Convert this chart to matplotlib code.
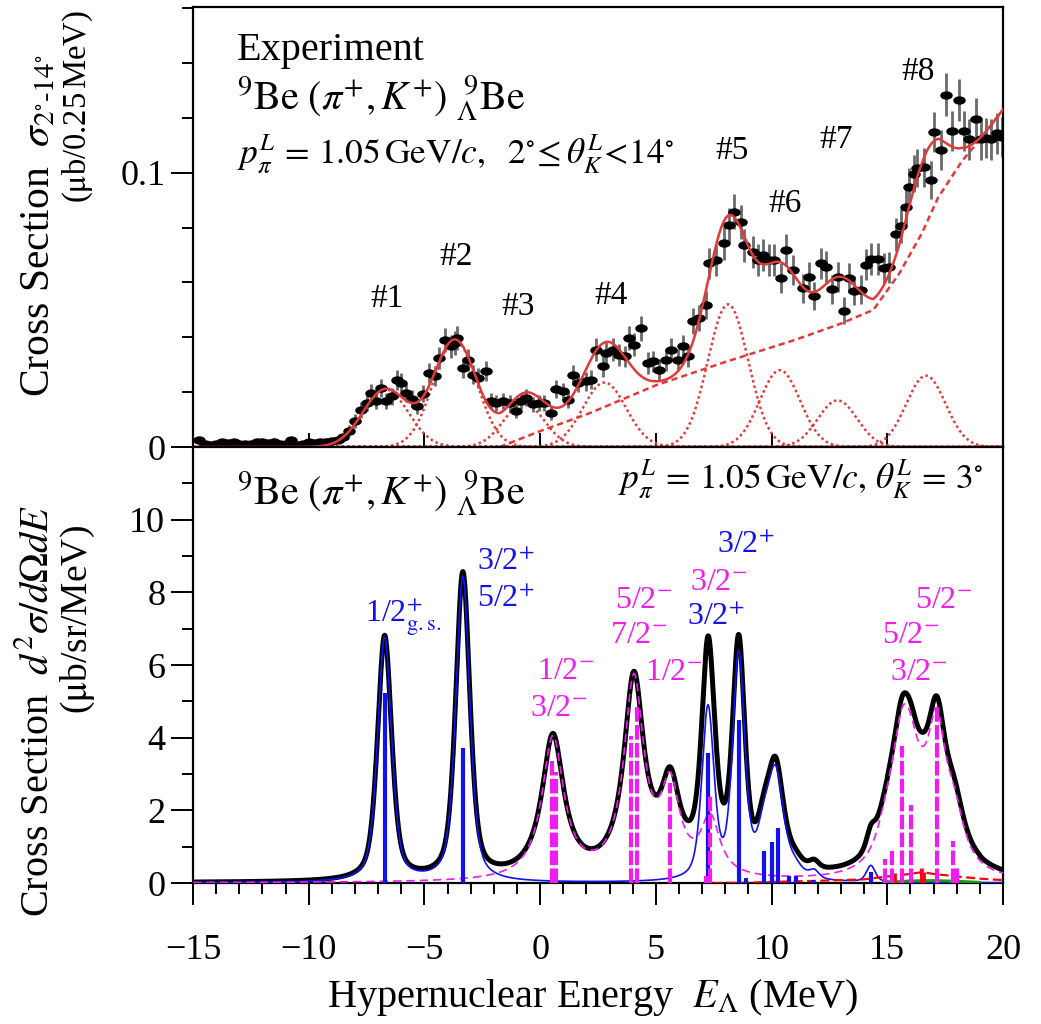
import numpy as np
import matplotlib
matplotlib.use("Agg")
import matplotlib.pyplot as plt
from matplotlib.path import Path
from matplotlib.ticker import MultipleLocator

plt.rcParams['font.family'] = ['Liberation Serif', 'DejaVu Serif']
plt.rcParams['mathtext.fontset'] = 'stix'

# ---------------- top panel: experimental data ----------------
EXP_E = [-14.75, -14.5, -14.25, -14.0, -13.75, -13.5, -13.25, -13.0, -12.75, -12.5,
         -12.25, -12.0, -11.75, -11.5, -11.25, -11.0, -10.75, -10.5, -10.25, -10.0,
         -9.75, -9.5, -9.25, -9.0, -8.75, -8.5, -8.25, -8.0, -7.75, -7.5,
         -7.3, -7.1, -6.87, -6.65, -6.4, -6.2, -6.0, -5.8, -5.55, -5.3,
         -5.05, -4.8, -4.55, -4.35, -4.1, -3.87, -3.7, -3.6, -3.35, -3.13,
         -2.9, -2.7, -2.35, -2.12, -1.9, -1.6, -1.3, -1.05, -0.82, -0.6,
         -0.32, -0.05, 0.15, 0.47, 0.69, 0.98, 1.19, 1.4, 1.65, 1.99,
         2.2, 2.4, 2.7, 2.85, 3.13, 3.42, 3.65, 3.86, 4.07, 4.36,
         4.65, 4.86, 5.15, 5.44, 5.66, 5.94, 6.16, 6.37, 6.59, 6.88,
         7.17, 7.31, 7.6, 7.96, 8.17, 8.39, 8.68, 8.82, 9.18, 9.4,
         9.61, 9.9, 10.12, 10.41, 10.62, 10.91, 11.34, 11.63, 11.84, 12.13,
         12.35, 12.63, 12.85, 13.14, 13.36, 13.57, 13.86, 14.08, 14.29, 14.58,
         14.87, 15.08, 15.37, 15.59, 15.8, 15.95, 16.16, 16.3, 16.59, 16.88,
         17.02, 17.31, 17.53, 17.81, 18.1, 18.32, 18.53, 18.83, 19.04, 19.26,
         19.47, 19.76, 19.95]
EXP_S = [0.0025, 0.0012, 0.0008, 0.0010, 0.0017, 0.0015, 0.0018, 0.0012, 0.0010, 0.0012,
         0.0017, 0.0020, 0.0016, 0.0019, 0.0010, 0.0012, 0.0025, 0.0008, 0.0010, 0.0017,
         0.0016, 0.0018, 0.0020, 0.0022, 0.0026, 0.0035, 0.0060, 0.0095, 0.0135, 0.0160,
         0.0197, 0.0167, 0.0215, 0.0167, 0.0185, 0.0245, 0.0235, 0.0197, 0.0175, 0.0148,
         0.0195, 0.0270, 0.0258, 0.0325, 0.0390, 0.0367, 0.0379, 0.0397, 0.0288, 0.0318,
         0.0264, 0.0252, 0.0276, 0.0167, 0.0160, 0.0167, 0.0160, 0.0130, 0.0167, 0.0179,
         0.0155, 0.0160, 0.0160, 0.0124, 0.0210, 0.0203, 0.0173, 0.0262, 0.0233, 0.0240,
         0.0245, 0.0355, 0.0294, 0.0343, 0.0355, 0.0336, 0.0330, 0.0397, 0.0373, 0.0433,
         0.0306, 0.0312, 0.0282, 0.0318, 0.0355, 0.0318, 0.0367, 0.0330, 0.0458, 0.0470,
         0.0518, 0.0670, 0.0682, 0.0742, 0.0809, 0.0857, 0.0821, 0.0736, 0.0712, 0.0682,
         0.0700, 0.0682, 0.0682, 0.0615, 0.0718, 0.0645, 0.0579, 0.0619, 0.0551, 0.0670,
         0.0657, 0.0575, 0.0619, 0.0497, 0.0615, 0.0570, 0.0573, 0.0664, 0.0684, 0.0684,
         0.0652, 0.0655, 0.0775, 0.0807, 0.0876, 0.0948, 0.0997, 0.1017, 0.1019, 0.0973,
         0.1147, 0.1082, 0.1284, 0.1152, 0.1266, 0.1152, 0.1121, 0.1197, 0.1121, 0.1128,
         0.1121, 0.1143, 0.1130]
EXP_ERR = [0.0012, 0.0010, 0.0009, 0.0009, 0.0011, 0.0010, 0.0011, 0.0010, 0.0009, 0.0010,
           0.0011, 0.0012, 0.0011, 0.0012, 0.0009, 0.0010, 0.0012, 0.0009, 0.0009, 0.0011,
           0.0011, 0.0011, 0.0012, 0.0012, 0.0013, 0.0015, 0.0020, 0.0024, 0.0028, 0.0030,
           0.0032, 0.0030, 0.0033, 0.0030, 0.0031, 0.0036, 0.0035, 0.0032, 0.0031, 0.0028,
           0.0032, 0.0037, 0.0036, 0.0040, 0.0044, 0.0042, 0.0043, 0.0044, 0.0038, 0.0040,
           0.0036, 0.0036, 0.0037, 0.0030, 0.0029, 0.0030, 0.0029, 0.0026, 0.0030, 0.0031,
           0.0029, 0.0029, 0.0029, 0.0026, 0.0033, 0.0032, 0.0030, 0.0036, 0.0034, 0.0035,
           0.0035, 0.0042, 0.0038, 0.0041, 0.0042, 0.0040, 0.0040, 0.0044, 0.0043, 0.0046,
           0.0039, 0.0039, 0.0037, 0.0040, 0.0042, 0.0040, 0.0043, 0.0040, 0.0047, 0.0048,
           0.0050, 0.0057, 0.0057, 0.0060, 0.0062, 0.0064, 0.0063, 0.0060, 0.0058, 0.0057,
           0.0058, 0.0057, 0.0057, 0.0054, 0.0058, 0.0055, 0.0053, 0.0055, 0.0052, 0.0057,
           0.0056, 0.0053, 0.0055, 0.0049, 0.0055, 0.0053, 0.0053, 0.0057, 0.0058, 0.0058,
           0.0056, 0.0056, 0.0061, 0.0062, 0.0065, 0.0068, 0.0069, 0.0070, 0.0070, 0.0068,
           0.0073, 0.0072, 0.0078, 0.0074, 0.0077, 0.0074, 0.0073, 0.0075, 0.0073, 0.0073,
           0.0073, 0.0074, 0.0073]

# fitted gaussian peaks #1..#8 (centre, height, FWHM) and background curve
FIT_E = [-6.68, -3.68, -0.70, 2.78, 8.12, 10.36, 12.85, 16.67]
FIT_H = [0.021, 0.039, 0.016, 0.0235, 0.052, 0.028, 0.017, 0.026]
FIT_W = [2.3, 2.2, 2.05, 2.2, 2.05, 2.05, 2.0, 2.0]
PEAK_LABELS = ['#1', '#2', '#3', '#4', '#5', '#6', '#7', '#8']
BG_E = [-15.0, -1.75, 0.0, 2.1, 5.0, 8.0, 11.0, 13.0, 14.4, 15.5, 16.5, 17.2, 18.25, 19.1, 20.0]
BG_S = [0.0, 0.0, 0.0058, 0.0122, 0.0225, 0.0310, 0.039, 0.045, 0.050, 0.063, 0.078, 0.091, 0.1045, 0.113, 0.123]

# ---------------- bottom panel: calculation ----------------
# positive parity (blue) line-shape components: centre, height, FWHM
POS_E = [-6.72, -3.34, 7.25, 8.58, 9.65, 10.18, 11.0, 11.84, 14.29]
POS_H = [6.72, 8.4, 4.7, 6.15, 1.0, 2.8, 0.3, 0.22, 0.45]
POS_W = [0.72, 0.72, 0.62, 0.62, 0.7, 0.8, 0.8, 0.5, 0.45]
# negative parity (magenta) line-shape components
NEG_E = [0.55, 4.05, 5.62, 7.35, 14.9, 15.22, 15.63, 16.02, 16.52, 17.14, 17.86, 18.03]
NEG_H = [3.9, 5.4, 2.32, 1.55, 0.55, 0.55, 2.65, 1.75, 0.55, 3.6, 0.89, 0.34]
NEG_W = [1.15, 1.05, 1.0, 1.0, 1.0, 1.0, 1.0, 1.0, 1.0, 1.0, 1.0, 1.0]
# small extra contributions
RED_E = [7.5, 9.0, 10.0, 12.0, 14.0, 15.0, 16.0, 16.5, 17.0, 18.0, 19.0, 20.0]
RED_Y = [0.0, 0.01, 0.03, 0.06, 0.10, 0.18, 0.25, 0.30, 0.25, 0.18, 0.12, 0.08]
GREEN_E = [15.0, 16.0, 17.0, 18.0, 19.0]
GREEN_Y = [0.02, 0.06, 0.07, 0.05, 0.02]

# strength bars
BLUE_BAR_E = [-6.72, -3.34, 7.27, 8.58, 8.90, 9.66, 10.04, 10.28, 10.76, 11.05, 11.77, 14.29]
BLUE_BAR_H = [5.24, 3.72, 3.59, 4.5, 0.14, 0.87, 1.13, 1.52, 0.18, 0.18, 0.09, 0.29]
MAG_BAR_E = [0.50, 0.69, 3.93, 4.17, 5.61, 7.17, 7.34, 14.90, 15.22, 15.63, 16.02, 16.52, 17.14, 17.86, 18.03]
MAG_BAR_H = [3.35, 3.05, 4.05, 4.87, 2.76, 0.2, 2.39, 0.66, 0.87, 3.77, 2.16, 0.46, 4.87, 1.15, 0.44]
RED_BAR_E = [15.35, 16.45, 16.6]
RED_BAR_H = [0.28, 0.38, 0.30]

BLUE = '#1212ee'
MAG = '#f01cf0'
RED = '#e23a3a'

W, H = 1041, 1024
fig = plt.figure(figsize=(W / 100, H / 100), dpi=100)


def fx(px):
    return px / W


def fy(py):
    return 1 - py / H


L, R = 193, 1003
ax1 = fig.add_axes([fx(L), fy(447), fx(R - L), (447 - 7) / H])
ax2 = fig.add_axes([fx(L), fy(883), fx(R - L), (883 - 447) / H])

x = np.linspace(-15, 20, 3501)


def gauss(x, c, h, w):
    s = w / 2.3548
    return h * np.exp(-0.5 * ((x - c) / s) ** 2)


def pvoigt(x, c, h, w, eta):
    lor = 1.0 / (1.0 + ((x - c) / (w / 2)) ** 2)
    gs = np.exp(-4 * np.log(2) * ((x - c) / w) ** 2)
    return h * (eta * lor + (1 - eta) * gs)


# ---- top panel ----
ellipse = Path.unit_circle().transformed(matplotlib.transforms.Affine2D().scale(1.6, 1.0))
ax1.errorbar(EXP_E, EXP_S, yerr=EXP_ERR, fmt='none', ecolor='#6a6a6a', elinewidth=2.0, zorder=2)
ax1.plot(EXP_E, EXP_S, ls='none', marker=ellipse, ms=8, color='black', zorder=3)

bg = np.interp(x, BG_E, BG_S)
total = bg.copy()
for c, h, w in zip(FIT_E, FIT_H, FIT_W):
    g = gauss(x, c, h, w)
    total += g
    ax1.plot(x, g, color=RED, lw=1.8, ls=(0, (1.0, 1.2)), zorder=2.5)
ax1.plot(BG_E[1:], BG_S[1:], color=RED, lw=1.8, ls=(0, (2.5, 1.6)), zorder=2.5)
ax1.plot(x, total, color=RED, lw=1.8, zorder=4)

label_pos = [(387, 299), (456, 257), (518, 307), (611, 296), (732, 151), (785, 204), (836, 140), (918, 72)]
for lab, (px, py) in zip(PEAK_LABELS, label_pos):
    fig.text(fx(px), fy(py), lab, fontsize=24, ha='center', va='center')

ax1.set_xlim(-15, 20)
ax1.set_ylim(0, 0.1604)
ax1.set_yticks([0, 0.1])
ax1.set_yticklabels(['0', '0.1'])
ax1.yaxis.set_minor_locator(MultipleLocator(0.02))
ax1.set_xticks([-10, -5, 0, 5, 10, 15])
ax1.tick_params(axis='x', which='both', direction='in', length=10, width=1.4, labelbottom=False)
ax1.tick_params(axis='y', which='major', direction='out', length=16, width=1.4, labelsize=26, pad=4)
ax1.tick_params(axis='y', which='minor', direction='out', length=8, width=1.4)

fig.text(fx(237), fy(60), 'Experiment', fontsize=29, ha='left', va='baseline')
fig.text(fx(237), fy(110), r'${}^{9}\mathrm{Be}\ (\pi^{+},K^{+})\ {}^{\ 9}_{\Lambda}\mathrm{Be}$',
         fontsize=29, ha='left', va='baseline')
fig.text(fx(237), fy(163),
         r'$p_{\pi}^{L}\,=\,1.05\,\mathrm{GeV}/c,\ \ 2^{\circ}\!\leq\theta_{K}^{L}\!<\!14^{\circ}$',
         fontsize=25.5, ha='left', va='baseline')

# ---- bottom panel ----
blue_curve = np.zeros_like(x)
for c, h, w in zip(POS_E, POS_H, POS_W):
    blue_curve += pvoigt(x, c, h, w, 0.5)
mag_curve = np.zeros_like(x)
for c, h, w in zip(NEG_E, NEG_H, NEG_W):
    mag_curve += pvoigt(x, c, h, w, 1.0)
red_curve = np.interp(x, RED_E, RED_Y)
green_curve = np.interp(x, GREEN_E, GREEN_Y, left=0, right=0)
black_curve = blue_curve + mag_curve + red_curve + green_curve

ax2.plot(x, black_curve, color='black', lw=3.6, zorder=3, solid_joinstyle='round')
ax2.plot(x, blue_curve, color=BLUE, lw=1.2, zorder=4)
ax2.plot(x, mag_curve, color=MAG, lw=1.2, ls=(0, (5, 3)), zorder=4)
ax2.plot(RED_E, RED_Y, color='red', lw=1.6, ls=(0, (4, 2)), zorder=4)
ax2.plot(GREEN_E, GREEN_Y, color='#1a9a1a', lw=2.0, zorder=4)

ax2.vlines(BLUE_BAR_E, 0, BLUE_BAR_H, colors=BLUE, lw=3.0, zorder=5)
ax2.vlines(MAG_BAR_E, 0, MAG_BAR_H, colors=MAG, lw=3.0, linestyles=[(0, (3.5, 0.8))], zorder=5)
ax2.vlines(RED_BAR_E, 0, RED_BAR_H, colors='red', lw=2.0, zorder=5)

ax2.set_xlim(-15, 20)
ax2.set_ylim(0, 12.0)
ax2.set_yticks([0, 2, 4, 6, 8, 10])
ax2.yaxis.set_minor_locator(MultipleLocator(1))
ax2.set_xticks([-15, -10, -5, 0, 5, 10, 15, 20])
ax2.xaxis.set_minor_locator(MultipleLocator(1))
ax2.tick_params(axis='both', which='major', direction='out', length=16, width=1.4, labelsize=26)
ax2.tick_params(axis='both', which='minor', direction='out', length=8, width=1.4)
ax2.tick_params(axis='x', which='major', pad=21)
ax2.tick_params(axis='y', which='major', pad=4)

for ax in (ax1, ax2):
    for sp in ax.spines.values():
        sp.set_linewidth(1.6)

fig.text(fx(237), fy(505), r'${}^{9}\mathrm{Be}\ (\pi^{+},K^{+})\ {}^{\ 9}_{\Lambda}\mathrm{Be}$',
         fontsize=29, ha='left', va='baseline')
fig.text(fx(983), fy(488), r'$p_{\pi}^{L}\,=\,1.05\,\mathrm{GeV}/c,\,\theta_{K}^{L}\,=\,3^{\circ}$',
         fontsize=25.5, ha='right', va='baseline')

# level labels: (text, left px, baseline px, colour)
LEVEL_LABELS = [
    (r'1/2$^{+}_{\mathrm{g.s.}}$', 365, 623, BLUE),
    (r'3/2$^{+}$', 477, 570, BLUE),
    (r'5/2$^{+}$', 477, 607, BLUE),
    (r'1/2$^{-}$', 537, 679, MAG),
    (r'3/2$^{-}$', 530, 716, MAG),
    (r'5/2$^{-}$', 615, 608, MAG),
    (r'7/2$^{-}$', 610, 643, MAG),
    (r'1/2$^{-}$', 645, 680, MAG),
    (r'3/2$^{+}$', 717, 553, BLUE),
    (r'3/2$^{-}$', 690, 590, MAG),
    (r'3/2$^{+}$', 687, 625, BLUE),
    (r'5/2$^{-}$', 915, 608, MAG),
    (r'5/2$^{-}$', 882, 643, MAG),
    (r'3/2$^{-}$', 890, 680, MAG),
]
for t, px, py, col in LEVEL_LABELS:
    fig.text(fx(px), fy(py), t, fontsize=23, color=col, ha='left', va='baseline')

# axis labels
fig.text(fx(39), fy(226), r'Cross Section  $\sigma_{2^{\circ}\text{-}14^{\circ}}$',
         fontsize=30, rotation=90, ha='center', va='center')
fig.text(fx(78), fy(106), r'($\mathrm{\mu}$b/0.25$\,$MeV)', fontsize=23.5, rotation=90, ha='center', va='center')
fig.text(fx(38), fy(711), r'Cross Section  $d^{2}\sigma/d\Omega dE$',
         fontsize=29, rotation=90, ha='center', va='center')
fig.text(fx(78), fy(620), r'($\mathrm{\mu}$b/sr/MeV)', fontsize=27, rotation=90, ha='center', va='center')
fig.text(fx(593), fy(997), r'Hypernuclear Energy  $E_{\Lambda}$ (MeV)', fontsize=29, ha='center', va='center')

fig.savefig('out.png', dpi=100)
